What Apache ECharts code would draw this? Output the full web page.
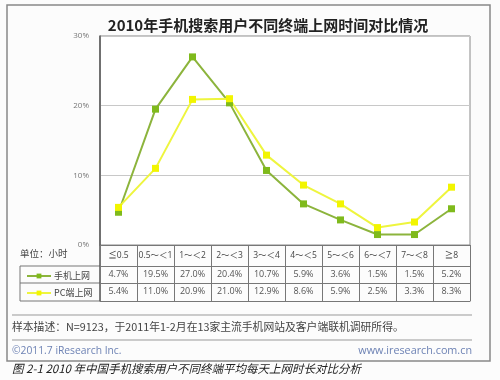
<!DOCTYPE html>
<html><head><meta charset="utf-8">
<script src="https://cdn.jsdelivr.net/npm/echarts@6/dist/echarts.min.js"></script>
<style>html,body{margin:0;padding:0;background:#fcfcfc}#c{width:500px;height:380px}</style>
</head><body><div id="c"></div>
<script>
var titleText = '2010年手机搜索用户不同终端上网时间对比情况';
var categories = ['≦0.5', '0.5～＜1', '1～＜2', '2～＜3', '3～＜4', '4～＜5', '5～＜6', '6～＜7', '7～＜8', '≧8'];
var seriesNames = ['手机上网', 'PC端上网'];
var mobileValues = [4.7, 19.5, 27.0, 20.4, 10.7, 5.9, 3.6, 1.5, 1.5, 5.2];
var pcValues = [5.4, 11.0, 20.9, 21.0, 12.9, 8.6, 5.9, 2.5, 3.3, 8.3];
var yTicks = [0, 10, 20, 30];
var unitText = '单位：小时';
var sampleText = '样本描述：N=9123，于2011年1-2月在13家主流手机网站及客户端联机调研所得。';
var copyText = '©2011.7 iResearch Inc.';
var siteText = 'www.iresearch.com.cn';
var captionText = '图 2-1 2010 年中国手机搜索用户不同终端平均每天上网时长对比分析';

var FONT = '"Open Sans", "Noto Sans CJK SC", sans-serif';
var CJK = '"Noto Sans CJK SC", sans-serif';
var fmt = function (v) { return v.toFixed(1) + '%'; };

var chart = echarts.init(document.getElementById('c'), null, {renderer: 'canvas'});
function rowAxis(data, offset, tickLen, showLabel) {
  return {
    type: 'category', data: data, position: 'bottom', offset: offset, gridIndex: 0,
    boundaryGap: true,
    axisLine: {show: true, lineStyle: {color: '#777', width: 1}},
    axisTick: {show: tickLen > 0, interval: 0, length: tickLen, lineStyle: {color: '#777', width: 1}},
    axisLabel: {show: showLabel, interval: 0, margin: 4, color: '#555', fontSize: 9, fontFamily: FONT},
    splitLine: {show: false}
  };
}
var option = {
  backgroundColor: '#fcfcfc',
  animation: false,
  title: {text: titleText, left: 263, textAlign: 'center', top: 13,
    textStyle: {fontSize: 15, fontWeight: 'bold', color: '#222', fontFamily: CJK}},
  grid: {left: 100, right: 30, top: 36, bottom: 135, show: true, borderColor: '#888', borderWidth: 1, backgroundColor: '#fff'},
  legend: {
    data: seriesNames, orient: 'vertical', left: 21, top: 265, itemWidth: 24, itemHeight: 6, itemGap: 5,
    textStyle: {fontSize: 9, color: '#444', fontFamily: CJK, lineHeight: 12, padding: [0, 0, 0, -2]}
  },
  xAxis: [
    {
      type: 'category', data: categories, position: 'bottom', boundaryGap: true,
      axisLine: {show: true, lineStyle: {color: '#777', width: 1}},
      axisTick: {show: true, interval: 0, length: 21, lineStyle: {color: '#777'}},
      axisLabel: {interval: 0, margin: 6, color: '#444', fontSize: 8.5, fontFamily: FONT},
      splitLine: {show: false}
    },
    rowAxis(mobileValues.map(fmt), 21, 17, true),
    rowAxis(pcValues.map(fmt), 38, 18, true),
    rowAxis(categories, 56, 0, false)
  ],
  yAxis: {
    type: 'value', min: yTicks[0], max: yTicks[yTicks.length - 1], interval: 10,
    axisLine: {show: true, lineStyle: {color: '#555', width: 1.5}},
    axisTick: {show: false},
    axisLabel: {formatter: '{value}%', margin: 11, color: '#777', fontSize: 8, fontFamily: FONT},
    splitLine: {show: true, lineStyle: {color: '#c8c8c8', width: 1}}
  },
  series: [
    {name: seriesNames[0], type: 'line', data: mobileValues, symbol: 'rect', symbolSize: 7,
      lineStyle: {color: '#8cb43c', width: 2}, itemStyle: {color: '#7fba1c'}},
    {name: seriesNames[1], type: 'line', data: pcValues, symbol: 'rect', symbolSize: 7,
      lineStyle: {color: '#eef53e', width: 2}, itemStyle: {color: '#f2f500'}}
  ],
  graphic: [
    {type: 'rect', shape: {x: 7, y: 5, width: 483, height: 356}, style: {fill: 'none', stroke: '#888', lineWidth: 1.5}, silent: true},
    {type: 'line', shape: {x1: 20, y1: 266, x2: 100, y2: 266}, style: {stroke: '#777', lineWidth: 1}},
    {type: 'line', shape: {x1: 20, y1: 283, x2: 100, y2: 283}, style: {stroke: '#777', lineWidth: 1}},
    {type: 'line', shape: {x1: 20, y1: 301, x2: 100, y2: 301}, style: {stroke: '#777', lineWidth: 1}},
    {type: 'line', shape: {x1: 20, y1: 266, x2: 20, y2: 301}, style: {stroke: '#777', lineWidth: 1}},
    {type: 'line', shape: {x1: 100, y1: 245, x2: 100, y2: 301}, style: {stroke: '#555', lineWidth: 1.5}},
    {type: 'text', left: 20, top: 249, style: {text: unitText, fontSize: 9.5, fill: '#444', fontFamily: CJK}},
    {type: 'line', shape: {x1: 12, y1: 315, x2: 472, y2: 315}, style: {stroke: '#999', lineWidth: 1}},
    {type: 'text', left: 12, top: 322, style: {text: sampleText, fontSize: 10.8, fill: '#444', fontFamily: CJK}},
    {type: 'line', shape: {x1: 12, y1: 340, x2: 472, y2: 340}, style: {stroke: '#999', lineWidth: 1}},
    {type: 'text', left: 12, top: 346, style: {text: copyText, fontSize: 10.3, fill: '#6d82b4', fontFamily: FONT}},
    {type: 'text', right: 28, top: 346, style: {text: siteText, fontSize: 10.8, fill: '#6d82b4', fontFamily: FONT}},
    {type: 'text', left: 12, top: 363, style: {text: captionText, fontSize: 11.5, fill: '#222', fontFamily: CJK, fontStyle: 'italic'}}
  ]
};
chart.setOption(option);
</script></body></html>
